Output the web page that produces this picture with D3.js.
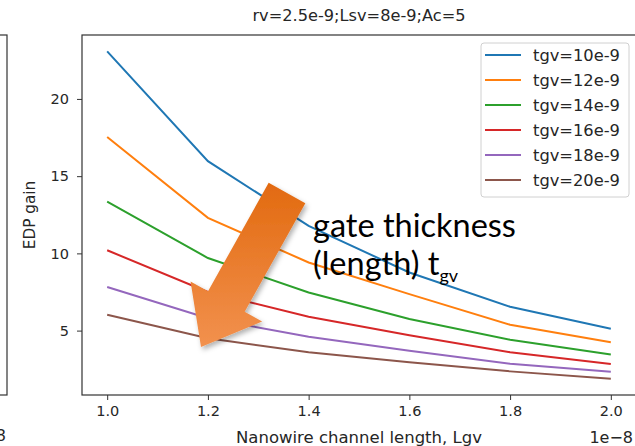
<!DOCTYPE html>
<meta charset="utf-8">
<style>
body { margin: 0; background: #fff; }
text { font-family: "DejaVu Sans", sans-serif; fill: #262626; }
.note text { font-family: Lato, "Open Sans", sans-serif; fill: #000; }
</style>
<svg width="635" height="446"></svg>
<script src="https://d3js.org/d3.v7.min.js"></script>
<script>

// channel length Lgv (m)
var lgv = [1.0e-8, 1.2e-8, 1.4e-8, 1.6e-8, 1.8e-8, 2.0e-8];

// EDP gain, one array per gate thickness tgv
var tgv10 = [23.08, 15.97, 11.78, 8.76, 6.54, 5.12];
var tgv12 = [17.53, 12.3, 9.41, 7.36, 5.38, 4.24];
var tgv14 = [13.35, 9.7, 7.47, 5.75, 4.41, 3.46];
var tgv16 = [10.2, 7.5, 5.9, 4.7, 3.6, 2.84];
var tgv18 = [7.82, 5.8, 4.6, 3.7, 2.86, 2.33];
var tgv20 = [6.03, 4.5, 3.6, 2.95, 2.36, 1.89];

var seriesNames = ["tgv=10e-9", "tgv=12e-9", "tgv=14e-9", "tgv=16e-9", "tgv=18e-9", "tgv=20e-9"];
var seriesValues = [tgv10, tgv12, tgv14, tgv16, tgv18, tgv20];
var colors = ["#1f77b4", "#ff7f0e", "#2ca02c", "#d62728", "#9467bd", "#8c564b"];

var xTicks = [1.0e-8, 1.2e-8, 1.4e-8, 1.6e-8, 1.8e-8, 2.0e-8];
var yTicks = [5, 10, 15, 20];

var svg = d3.select("svg");

// plot box (note: "top" is reserved on window, so use m*)
var mLeft = 82, mRight = 636, mTop = 35, mBottom = 395;

// matplotlib-like 5% margins
var xExt = d3.extent(lgv), xPad = (xExt[1] - xExt[0]) * 0.05;
var yExt = d3.extent(d3.merge(seriesValues)), yPad = (yExt[1] - yExt[0]) * 0.05;

var x = d3.scaleLinear().domain([xExt[0] - xPad, xExt[1] + xPad]).range([mLeft, mRight]);
var y = d3.scaleLinear().domain([yExt[0] - yPad, yExt[1] + yPad]).range([mBottom, mTop]);

// edge of the neighbouring plot on the left
svg.append("rect")
  .attr("x", -60).attr("y", mTop).attr("width", 67).attr("height", mBottom - mTop)
  .attr("fill", "none").attr("stroke", "#333").attr("stroke-width", 1.2);
svg.append("text")
  .attr("x", 6).attr("y", 441).attr("text-anchor", "end")
  .style("font-size", "16px").text("1e\u22128");

// axes
var xAxis = svg.append("g")
  .attr("transform", "translate(0," + mBottom + ")")
  .call(d3.axisBottom(x).tickValues(xTicks).tickSize(5).tickPadding(6)
    .tickFormat(function(d) { return (d / 1e-8).toFixed(1); }));
var yAxis = svg.append("g")
  .attr("transform", "translate(" + mLeft + ",0)")
  .call(d3.axisLeft(y).tickValues(yTicks).tickSize(5).tickPadding(8));
[xAxis, yAxis].forEach(function(a) {
  a.select(".domain").remove();
  a.selectAll(".tick line").attr("stroke", "#333").attr("stroke-width", 1);
  a.selectAll(".tick text").attr("fill", "#262626")
    .style("font-family", "DejaVu Sans").style("font-size", "14.5px");
});

// lines
var line = d3.line()
  .x(function(d, i) { return x(lgv[i]); })
  .y(function(d) { return y(d); });

svg.append("g").selectAll("path")
  .data(seriesValues)
  .join("path")
  .attr("d", line)
  .attr("fill", "none")
  .attr("stroke", function(d, i) { return colors[i]; })
  .attr("stroke-width", 2);

// frame
svg.append("rect")
  .attr("x", mLeft).attr("y", mTop).attr("width", mRight - mLeft).attr("height", mBottom - mTop)
  .attr("fill", "none").attr("stroke", "#333").attr("stroke-width", 1.2);

// title and labels
svg.append("text")
  .attr("x", (mLeft + mRight) / 2).attr("y", 21).attr("text-anchor", "middle")
  .style("font-size", "16.2px").text("rv=2.5e-9;Lsv=8e-9;Ac=5");
svg.append("text")
  .attr("x", (mLeft + mRight) / 2).attr("y", 443).attr("text-anchor", "middle")
  .style("font-size", "16.5px").text("Nanowire channel length, Lgv");
svg.append("text")
  .attr("x", mRight - 3).attr("y", 443).attr("text-anchor", "end")
  .style("font-size", "16px").text("1e\u22128");
svg.append("text")
  .attr("transform", "translate(35," + (mTop + mBottom) / 2 + ") rotate(-90)")
  .attr("text-anchor", "middle")
  .style("font-size", "15.3px").text("EDP gain");

// legend
var lg = svg.append("g").attr("transform", "translate(481,43)");
lg.append("rect")
  .attr("width", 148).attr("height", 154).attr("rx", 3)
  .attr("fill", "#fff").attr("fill-opacity", 0.8)
  .attr("stroke", "#d0d0d0");
var rows = lg.selectAll("g.row").data(seriesNames).join("g")
  .attr("class", "row")
  .attr("transform", function(d, i) { return "translate(0," + (12 + i * 25) + ")"; });
rows.append("line")
  .attr("x1", 4).attr("x2", 40)
  .attr("stroke", function(d, i) { return colors[i]; })
  .attr("stroke-width", 2);
rows.append("text")
  .attr("x", 52).attr("dy", "0.36em")
  .style("font-size", "16.3px").text(function(d) { return d; });

// annotation arrow (block arrow pointing down-left)
var defs = svg.append("defs");
var grad = defs.append("linearGradient").attr("id", "arrowGrad")
  .attr("x1", "0").attr("y1", "0").attr("x2", "0").attr("y2", "1");
grad.append("stop").attr("offset", "0%").attr("stop-color", "#e26a10");
grad.append("stop").attr("offset", "100%").attr("stop-color", "#f2914e");
var shadow = defs.append("filter").attr("id", "shadow")
  .attr("x", "-30%").attr("y", "-20%").attr("width", "160%").attr("height", "150%");
shadow.append("feDropShadow").attr("dx", 2).attr("dy", 3).attr("stdDeviation", 2.5)
  .attr("flood-color", "#000").attr("flood-opacity", 0.3);

var tail = [287, 193], tip = [201, 347];
var shaftHalf = 21, headHalf = 41, headLen = 52;
var len = Math.hypot(tip[0] - tail[0], tip[1] - tail[1]);
var ux = (tip[0] - tail[0]) / len, uy = (tip[1] - tail[1]) / len;
var px = -uy, py = ux;
var base = [tip[0] - ux * headLen, tip[1] - uy * headLen];
function off(p, k) { return [p[0] + px * k, p[1] + py * k]; }
var arrowPts = [
  off(tail, -shaftHalf), off(base, -shaftHalf), off(base, -headHalf),
  tip,
  off(base, headHalf), off(base, shaftHalf), off(tail, shaftHalf)
];
svg.append("path")
  .attr("d", d3.line()(arrowPts) + "Z")
  .attr("fill", "url(#arrowGrad)")
  .attr("filter", "url(#shadow)");

var note = svg.append("g").attr("class", "note");
note.append("text").attr("x", 313).attr("y", 237)
  .style("font-size", "32.5px").text("gate thickness");
var t2 = note.append("text").attr("x", 313).attr("y", 275).style("font-size", "32.5px");
t2.append("tspan").text("(length) t");
t2.append("tspan").attr("dy", 7).style("font-size", "18px").text("gv");

</script>
